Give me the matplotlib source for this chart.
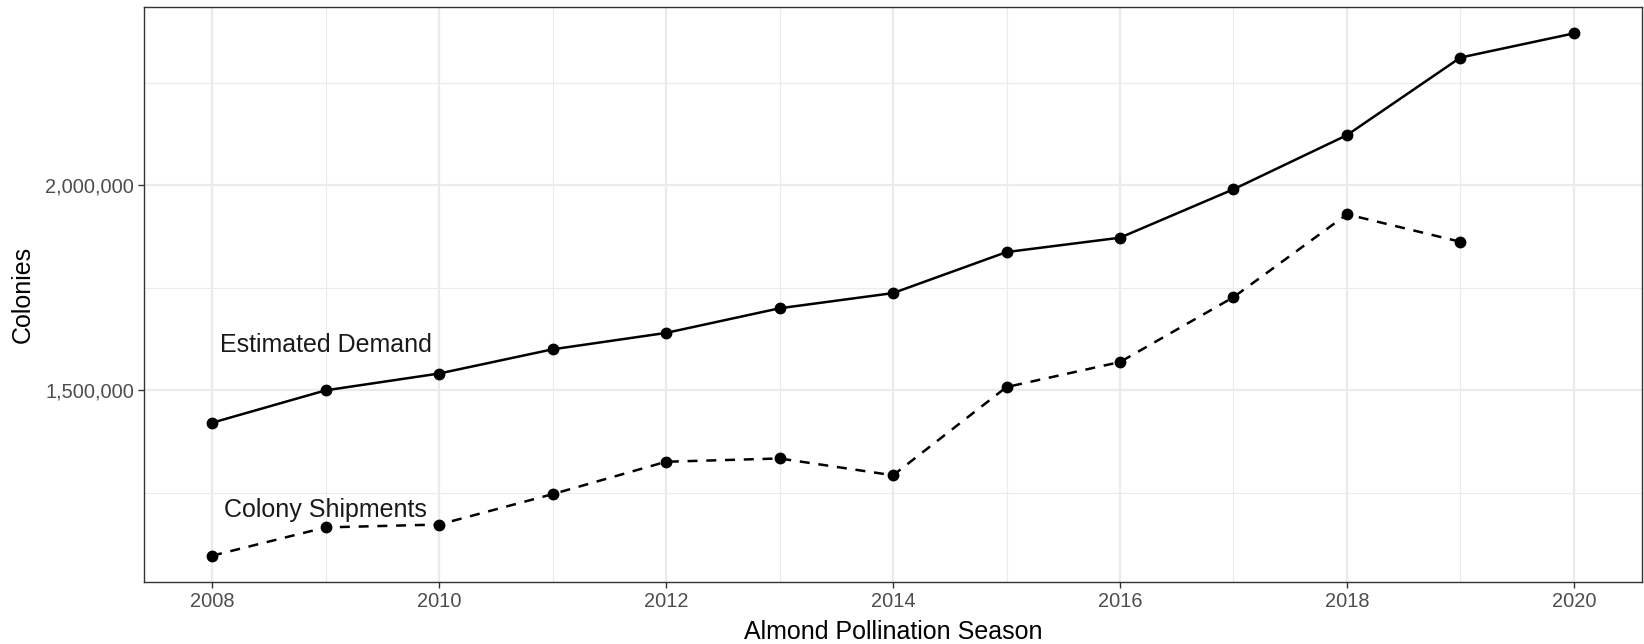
import matplotlib
matplotlib.use("Agg")
import matplotlib.pyplot as plt
from matplotlib.ticker import FuncFormatter, MultipleLocator

plt.rcParams['font.family'] = ['Liberation Sans', 'DejaVu Sans']

demand_years = [2008, 2009, 2010, 2011, 2012, 2013, 2014, 2015, 2016, 2017, 2018, 2019, 2020]
demand = [1421000, 1500000, 1541000, 1600000, 1640000, 1700000, 1737000, 1837000,
          1872000, 1990000, 2122000, 2311000, 2370000]

ship_years = [2008, 2009, 2010, 2011, 2012, 2013, 2014, 2015, 2016, 2017, 2018, 2019]
shipments = [1097000, 1166000, 1173000, 1247000, 1326000, 1334000, 1293000, 1508000,
             1569000, 1727000, 1929000, 1862000]

labels = ["Estimated Demand", "Colony Shipments"]
label_x = [2009, 2009]
label_y = [1610000, 1208000]

fig = plt.figure(figsize=(16.44, 6.44), dpi=100)
ax = fig.add_axes([0.0876, 0.0963, 0.9112, 0.8927])

ax.plot(demand_years, demand, color='black', lw=1.8, marker='o', ms=7.5, zorder=3)
ax.plot(ship_years, shipments, color='black', lw=1.8, marker='o', ms=7.5,
        linestyle=(0, (4, 3.5)), zorder=3)

for t, x, y in zip(labels, label_x, label_y):
    ax.text(x, y, t, ha='center', va='center', fontsize=18, color='#1a1a1a')

ax.set_xlim(2007.4, 2020.6)
ax.set_ylim(1033000, 2434000)
ax.xaxis.set_major_locator(MultipleLocator(2))
ax.xaxis.set_minor_locator(MultipleLocator(1))
ax.yaxis.set_major_locator(MultipleLocator(500000))
ax.yaxis.set_minor_locator(MultipleLocator(250000))
ax.yaxis.set_major_formatter(FuncFormatter(lambda v, p: f"{int(v):,}"))

ax.grid(which='major', color='#EBEBEB', lw=1.6)
ax.grid(which='minor', color='#EBEBEB', lw=0.8)
ax.set_axisbelow(True)

for s in ax.spines.values():
    s.set_color('#333333')
    s.set_linewidth(1.0)

ax.tick_params(which='major', length=4, width=1.0, color='#333333',
               labelsize=14.4, labelcolor='#4D4D4D', pad=3)
ax.tick_params(which='minor', length=0)

ax.set_xlabel("Almond Pollination Season", fontsize=18, color='black', labelpad=7)
ax.set_ylabel("Colonies", fontsize=18, color='black', labelpad=8)

fig.savefig("out.png", dpi=100, facecolor='white')
